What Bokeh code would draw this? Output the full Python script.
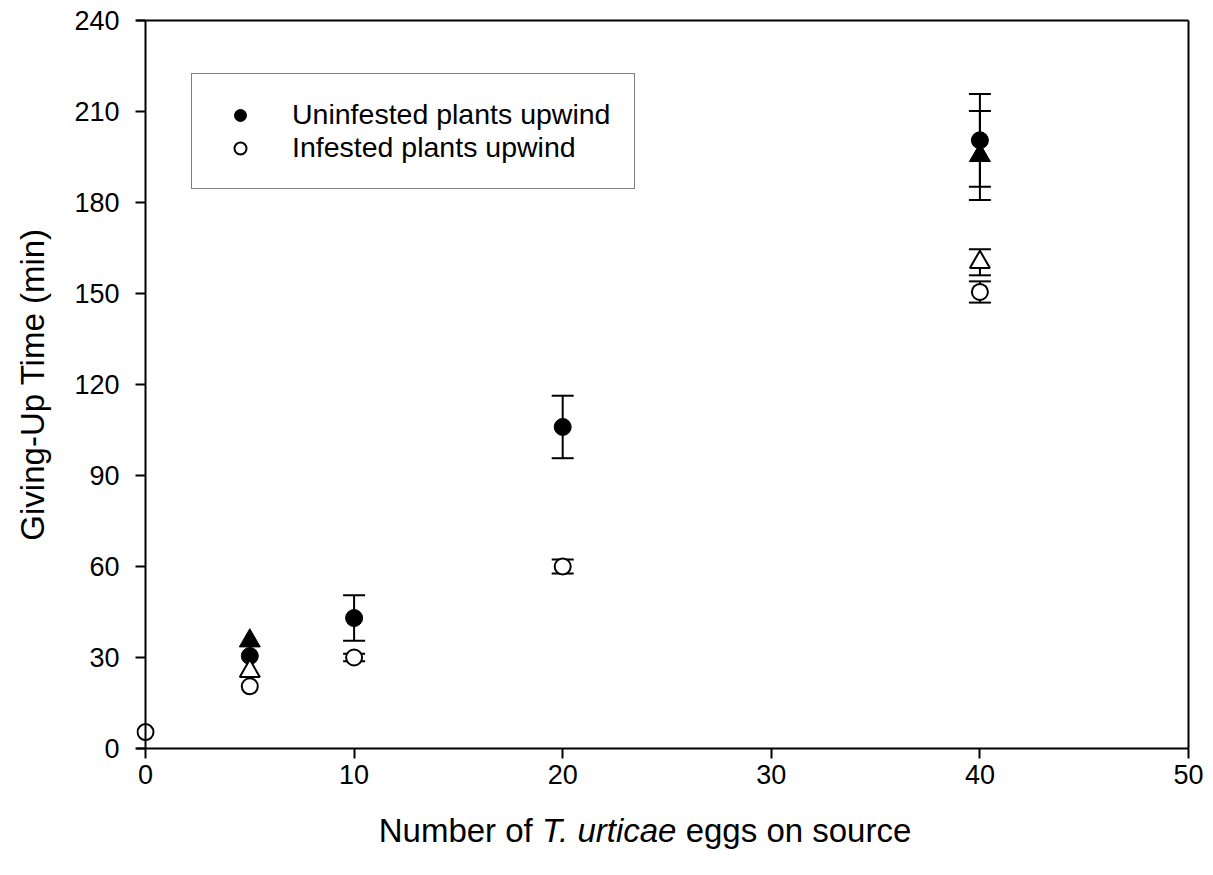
from bokeh.plotting import figure
from bokeh.models import Label, Legend, LegendItem, FixedTicker, Range1d, LinearAxis, Span
from bokeh.layouts import column
from bokeh.embed import file_html
from bokeh.resources import INLINE

FONT = "Liberation Sans"

# ---- data ----
x_ticks = [0, 10, 20, 30, 40, 50]
y_ticks = [0, 30, 60, 90, 120, 150, 180, 210, 240]

# Uninfested plants upwind (filled circles)
x_unin = [5, 10, 20, 40]
y_unin = [30.5, 43.0, 106.0, 200.5]
e_unin = [0.0, 7.5, 10.3, 15.3]

# Infested plants upwind (open circles)
x_inf = [0, 5, 10, 20, 40]
y_inf = [5.4, 20.5, 30.0, 60.0, 150.5]
e_inf = [0.0, 0.0, 1.2, 2.3, 3.5]

# filled triangles
x_trif = [5, 40]
y_trif = [35.5, 195.5]
e_trif = [0.0, 14.7]

# open triangles
x_trio = [5, 40]
y_trio = [25.5, 160.3]
e_trio = [0.0, 4.3]

legend_labels = ["Uninfested plants upwind", "Infested plants upwind"]
x_title_parts = ["Number of", "T. urticae", "eggs on source"]
y_title = "Giving-Up Time (min)"

# ---- layout ----
W_FIG = 1210
FRAME_L, FRAME_R, FRAME_T, FRAME_B = 136, 1188, 20, 748
PAD_L = 9  # px of room left of x=0 so the marker at x=0 is not clipped
x_lo = -x_ticks[-1] * PAD_L / (FRAME_R - FRAME_L - PAD_L)

p = figure(width=W_FIG, height=800, x_range=Range1d(x_lo, x_ticks[-1]),
           y_range=Range1d(y_ticks[0], y_ticks[-1]),
           output_backend="svg", toolbar_location=None,
           min_border_left=FRAME_L, min_border_right=W_FIG - FRAME_R,
           min_border_top=FRAME_T, min_border_bottom=800 - FRAME_B)
p.xgrid.visible = False
p.ygrid.visible = False
p.outline_line_color = None
p.background_fill_color = "white"
p.border_fill_color = "white"

for ax in (p.xaxis[0], p.yaxis[0]):
    ax.axis_line_width = 2
    ax.axis_line_color = "black"
    ax.major_tick_line_width = 2
    ax.major_tick_line_color = "black"
    ax.major_tick_out = 10
    ax.major_tick_in = 0
    ax.minor_tick_out = 0
    ax.minor_tick_in = 0
    ax.major_label_text_font = FONT
    ax.major_label_text_font_size = "27px"
    ax.major_label_text_color = "black"
p.xaxis.ticker = FixedTicker(ticks=x_ticks)
p.yaxis.ticker = FixedTicker(ticks=y_ticks)
p.xaxis.major_label_standoff = 6

# y axis: the axis sits at the frame edge, its ticks reach in to x = 0
yax = p.yaxis[0]
yax.axis_line_color = None
yax.major_tick_out = 1
yax.major_tick_in = PAD_L
yax.major_label_standoff = 16
yax.axis_label = y_title
yax.axis_label_text_font = FONT
yax.axis_label_text_font_size = "33px"
yax.axis_label_text_font_style = "normal"
yax.axis_label_text_color = "black"
yax.axis_label_standoff = 20
p.add_layout(Span(location=x_ticks[0], dimension="height", line_color="black", line_width=2))

# top and right frame lines
for side in ("above", "right"):
    a = LinearAxis(ticker=FixedTicker(ticks=[]), axis_line_width=2, axis_line_color="black",
                   major_tick_out=0, major_tick_in=0, minor_tick_out=0, minor_tick_in=0)
    p.add_layout(a, side)


def error_bars(xs, ys, es):
    bx = [x for x, e in zip(xs, es) if e > 0]
    lo = [y - e for y, e in zip(ys, es) if e > 0]
    hi = [y + e for y, e in zip(ys, es) if e > 0]
    p.segment(x0=bx, y0=lo, x1=bx, y1=hi, line_color="black", line_width=2)
    p.scatter(x=bx + bx, y=lo + hi, marker="dash", size=22, line_color="black", line_width=2)


error_bars(x_unin, y_unin, e_unin)
error_bars(x_trif, y_trif, e_trif)
error_bars(x_trio, y_trio, e_trio)
error_bars(x_inf, y_inf, e_inf)

r_unin = p.scatter(x=x_unin, y=y_unin, marker="circle", size=17,
                   fill_color="black", line_color="black", line_width=1)
p.scatter(x=x_trif, y=y_trif, marker="triangle", size=21,
          fill_color="black", line_color="black", line_width=1)
p.scatter(x=x_trio, y=y_trio, marker="triangle", size=20,
          fill_color="white", line_color="black", line_width=2)
r_inf = p.scatter(x=x_inf, y=y_inf, marker="circle", size=16,
                  fill_color="white", line_color="black", line_width=2)

legend = Legend(items=[LegendItem(label=legend_labels[0], renderers=[r_unin]),
                       LegendItem(label=legend_labels[1], renderers=[r_inf])],
                location=(191 - FRAME_L, FRAME_B - 189), orientation="vertical")
legend.label_text_font = FONT
legend.label_text_font_size = "28.5px"
legend.label_text_color = "black"
legend.glyph_height = 30
legend.glyph_width = 48
legend.label_height = 30
legend.spacing = 0
legend.padding = 24
legend.margin = 0
legend.label_standoff = 28
legend.border_line_color = "black"
legend.border_line_width = 1.5
legend.background_fill_color = "white"
legend.background_fill_alpha = 1
p.add_layout(legend, "center")

# ---- x-axis title strip (mixed upright / italic text) ----
fs = 33
W = {"N": 722, "u": 556, "m": 833, "b": 556, "e": 556, "r": 333, " ": 278, "o": 556,
     "f": 278, "T": 611, ".": 278, "t": 278, "i": 222, "c": 500, "a": 556, "g": 556,
     "s": 500, "n": 556}


def tw(s):
    return sum(W[ch] for ch in s) * fs / 1000.0


H2 = 72
t = figure(width=W_FIG, height=H2, x_range=Range1d(0, 1), y_range=Range1d(0, 1),
           x_axis_type=None, y_axis_type=None, output_backend="svg", toolbar_location=None,
           min_border_left=FRAME_L, min_border_right=W_FIG - FRAME_R,
           min_border_top=0, min_border_bottom=0)
t.outline_line_color = None
t.xgrid.visible = False
t.ygrid.visible = False
t.background_fill_color = "white"
t.border_fill_color = "white"

sp = W[" "] * fs / 1000.0
total = tw(x_title_parts[0]) + sp + tw(x_title_parts[1]) + sp + tw(x_title_parts[2])
center = 646.0
start = center - total / 2 - FRAME_L
offs = [start, start + tw(x_title_parts[0]) + sp,
        start + tw(x_title_parts[0]) + sp + tw(x_title_parts[1]) + sp - 3]
styles = ["normal", "italic", "normal"]
for txt, ox, st in zip(x_title_parts, offs, styles):
    t.add_layout(Label(x=ox, y=42, x_units="screen", y_units="screen", text=txt,
                       text_font=FONT, text_font_size=f"{fs}px", text_font_style=st,
                       text_color="black", text_align="left", text_baseline="alphabetic"))

layout = column(p, t, spacing=0)
open("out.html", "w").write(file_html(layout, INLINE))
